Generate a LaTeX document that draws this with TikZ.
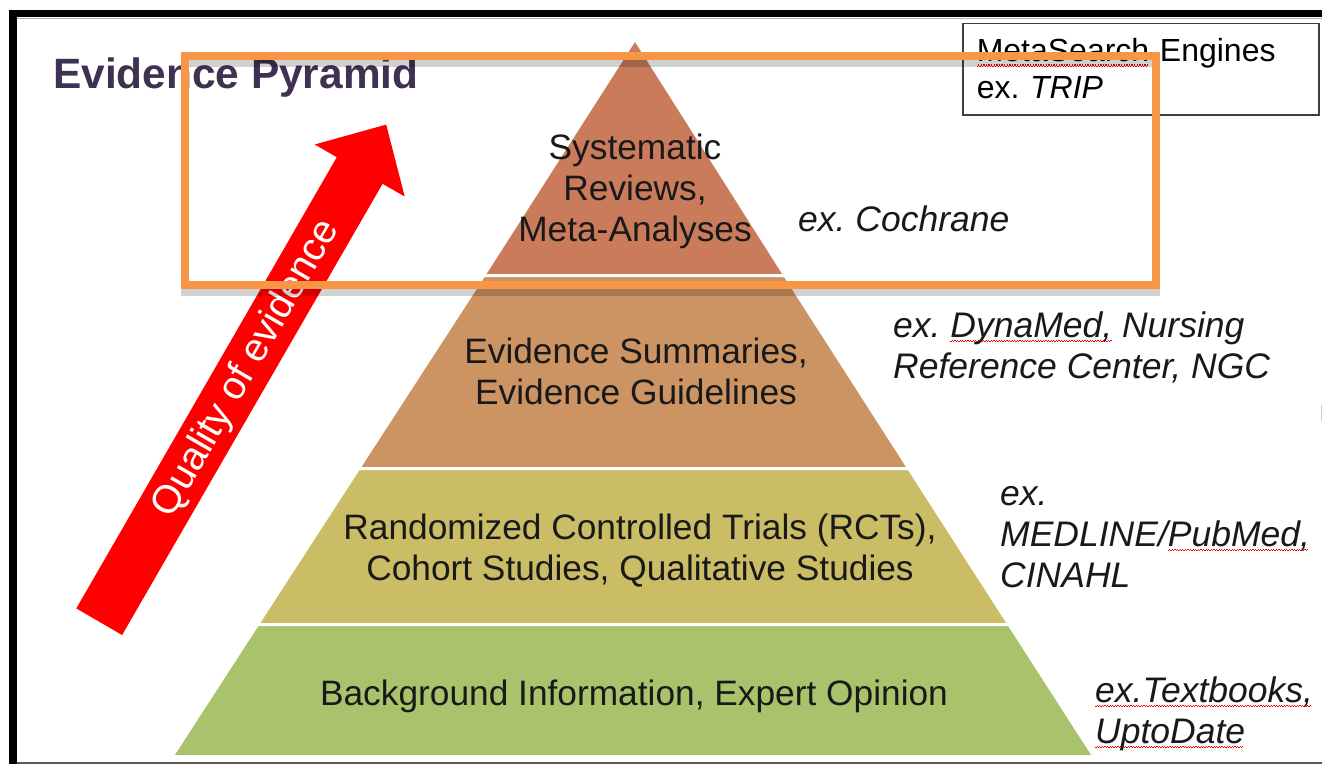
\documentclass[tikz,border=0pt]{standalone}
\usepackage{fontspec}
\setmainfont{Liberation Sans}
\frenchspacing
\definecolor{sysrev}{HTML}{C97B5C}
\definecolor{summ}{HTML}{CC9463}
\definecolor{rct}{HTML}{CABD66}
\definecolor{backgr}{HTML}{A9C36C}
\definecolor{hilite}{HTML}{F79646}
\definecolor{titlecol}{HTML}{3F3151}
\definecolor{arrowred}{HTML}{FF0000}
\newsavebox{\wavebox}
\newcommand{\spellwave}[1]{\sbox{\wavebox}{#1}\rlap{\color{red}\leaders\hbox{\rule[-5pt]{1.3pt}{1.1pt}\rule[-3.6pt]{1.3pt}{1.1pt}}\hskip\wd\wavebox}\usebox{\wavebox}}
\tikzset{
  tier/.style={draw=white, line width=3pt, line join=round},
  tiertext/.style={font=\fontsize{35.3}{41}\selectfont, align=center, text=black!90, inner sep=0pt},
  example/.style={font=\fontsize{35.5}{41}\selectfont\itshape, align=left, anchor=base west, text=black!90, inner sep=0pt}
}
\begin{document}
\begin{tikzpicture}[x=1pt,y=-1pt]
      \useasboundingbox [fill=white] (0,0) rectangle (1322,764);
      \draw [line width=7.5pt] (1322,13.5) -- (13,13.5) -- (13,764);
      \draw [black!30, line width=1pt] (17,18) -- (1322,18);
      \draw [black!65, line width=2pt] (17,763) -- (1322,763);
      \draw [black!20, line width=1pt] (1321,405) -- (1321,421);
      \node (title) [anchor=base west, inner sep=0pt, text=titlecol, font=\fontsize{42.4}{50}\selectfont\bfseries] at (53,88) {Evidence Pyramid};
      \filldraw [tier, fill=sysrev] (635,39) -- (784.9,275.5) -- (483.7,275.5) -- cycle;
      \filldraw [tier, fill=summ]   (483.7,275.5) -- (784.9,275.5) -- (908.8,468.5) -- (358.6,468.5) -- cycle;
      \filldraw [tier, fill=rct]    (358.6,468.5) -- (908.8,468.5) -- (1009,624.5) -- (257.5,624.5) -- cycle;
      \filldraw [tier, fill=backgr] (257.5,624.5) -- (1009,624.5) -- (1094,756.5) -- (172,756.5) -- cycle;
      \node (sysrevtext) [tiertext] at (635,191) {Systematic\\Reviews,\\Meta-Analyses};
      \node (summtext)   [tiertext] at (636,371) {Evidence Summaries,\\Evidence Guidelines};
      \node (rcttext)    [tiertext] at (640,551) {Randomized Controlled Trials (RCTs),\\Cohort Studies, Qualitative Studies};
      \node (backgrtext) [tiertext] at (634,696) {Background Information, Expert Opinion};
      \node (cochrane) [example] at (798,231) {ex. Cochrane};
      \node (dynamed)  [example] at (893,378) {ex. \spellwave{DynaMed,} Nursing\\Reference Center, NGC};
      \node (medline)  [example] at (1000,587) {ex.\\MEDLINE/\spellwave{PubMed,}\\CINAHL};
      \node (textbook) [example] at (1095,743) {\spellwave{ex.Textbooks,}\\\spellwave{UptoDate}};
      \fill [arrowred] (76.3,608.4) -- (336.8,157.2) -- (314.7,144.5) -- (386.2,124.6)
            -- (404.7,196.5) -- (382.6,183.8) -- (122.1,635) -- cycle;
      \node (quality) [rotate=60, text=white, inner sep=0pt, font=\fontsize{39.5}{44}\selectfont] at (247,369) {Quality of evidence};
      \node (metabox) [draw=black!75, line width=1.5pt, anchor=north west, minimum width=356pt, minimum height=91.5pt,
            text width=328pt, inner xsep=14pt, inner ysep=0pt, align=left, font=\fontsize{32}{37}\selectfont] at (962,22.5)
            {\spellwave{MetaSearch} Engines\\ex. \textit{TRIP}};
      \draw [black, opacity=0.18, line width=8pt] (185,63) rectangle (1155.5,292);
      \draw [hilite, line width=8pt] (185,56) rectangle (1155.5,285);
    \end{tikzpicture}
\end{document}
